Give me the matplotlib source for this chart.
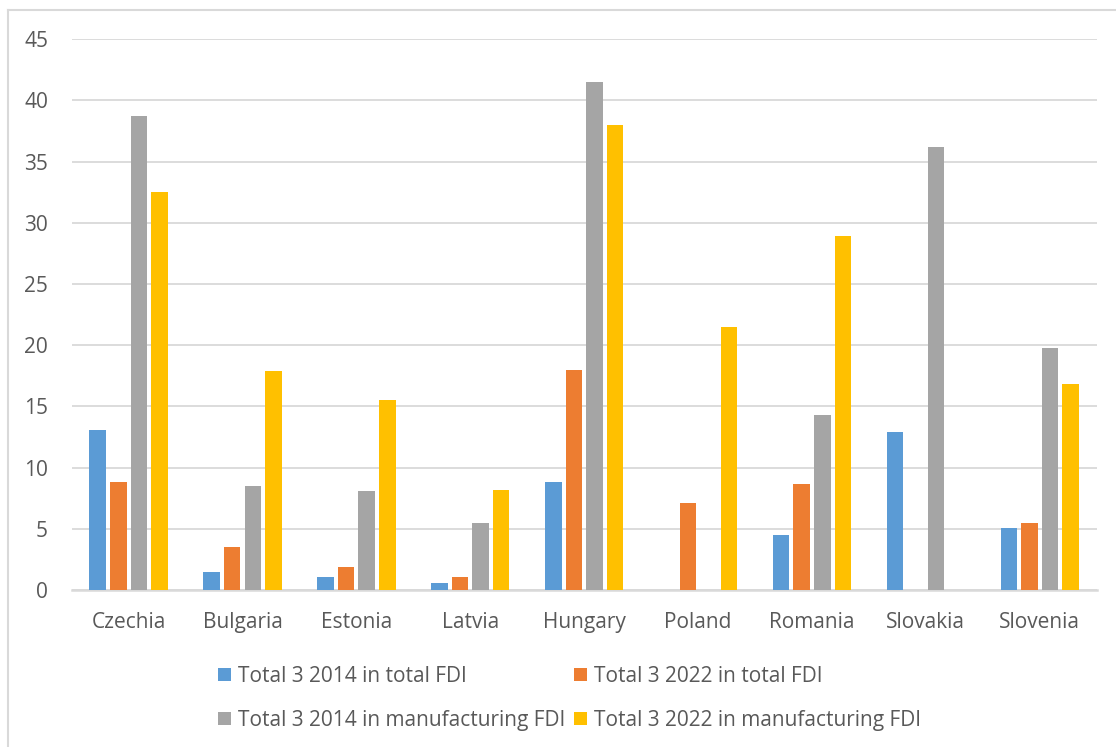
import numpy as np
import matplotlib
matplotlib.use("Agg")
import matplotlib.pyplot as plt
from matplotlib.patches import Patch
from matplotlib.lines import Line2D

countries = ["Czechia", "Bulgaria", "Estonia", "Latvia", "Hungary",
             "Poland", "Romania", "Slovakia", "Slovenia"]
total_2014 = [13.1, 1.5, 1.1, 0.6, 8.8, np.nan, 4.5, 12.9, 5.1]
total_2022 = [8.85, 3.5, 1.9, 1.05, 18.0, 7.1, 8.7, np.nan, 5.5]
manuf_2014 = [38.75, 8.5, 8.05, 5.45, 41.5, np.nan, 14.3, 36.2, 19.75]
manuf_2022 = [32.5, 17.9, 15.5, 8.15, 38.0, 21.5, 28.9, np.nan, 16.8]

series = [
    ("Total 3 2014 in total FDI", total_2014, "#5b9bd5"),
    ("Total 3 2022 in total FDI", total_2022, "#ed7d31"),
    ("Total 3 2014 in manufacturing FDI", manuf_2014, "#a5a5a5"),
    ("Total 3 2022 in manufacturing FDI", manuf_2022, "#ffc000"),
]
y_ticks = [0, 5, 10, 15, 20, 25, 30, 35, 40, 45]

W, H = 1116, 747
plt.rcParams["font.family"] = ["Open Sans", "DejaVu Sans"]
text_color = "#595959"
grid_color = "#d9d9d9"
fs = 15

fig = plt.figure(figsize=(W / 100, H / 100), dpi=100)
fig.patch.set_facecolor("white")

# outer chart frame (top and left edges visible)
fig.add_artist(Line2D([8 / W, 1.0], [1 - 10 / H, 1 - 10 / H], color=grid_color,
                      lw=1.5, transform=fig.transFigure))
fig.add_artist(Line2D([8 / W, 8 / W], [0, 1 - 10 / H], color=grid_color,
                      lw=1.5, transform=fig.transFigure))

left, right, top, bottom = 71.7, 1096.7, 39.3, 590.0
ax = fig.add_axes([left / W, 1 - bottom / H, (right - left) / W, (bottom - top) / H])

x = np.arange(len(countries))
pitch = 0.181
width = 0.145
for i, (name, vals, color) in enumerate(series):
    ax.bar(x + (i - 1.5) * pitch, vals, width=width, color=color, label=name,
           zorder=3)

ax.set_xlim(-0.5, len(countries) - 0.5)
ax.set_ylim(0, 45)
ax.set_yticks(y_ticks)
ax.set_xticks(x)
ax.set_xticklabels(countries)
ax.yaxis.grid(True, color=grid_color, lw=1.3, zorder=0)
ax.set_axisbelow(True)
for s in ["top", "right", "left"]:
    ax.spines[s].set_visible(False)
ax.spines["bottom"].set_color(grid_color)
ax.spines["bottom"].set_linewidth(1.8)
ax.tick_params(axis="both", length=0, colors=text_color, labelsize=fs)
ax.tick_params(axis="y", pad=17)
ax.tick_params(axis="x", pad=16)

# legend laid out row by row: (0, 1) on the first row, (2, 3) on the second
order = [0, 2, 1, 3]
handles = [Patch(facecolor=series[k][2], edgecolor="none") for k in order]
labels = [series[k][0] for k in order]
leg = fig.legend(handles, labels, ncol=2, loc="upper left",
                 bbox_to_anchor=(218 / W, 1 - 666 / H), frameon=False,
                 borderpad=0, borderaxespad=0,
                 fontsize=fs, labelcolor=text_color, handlelength=0.62,
                 handleheight=0.62, handletextpad=0.32, columnspacing=0.43,
                 labelspacing=1.1)

fig.savefig("out.png", dpi=100, facecolor="white")
